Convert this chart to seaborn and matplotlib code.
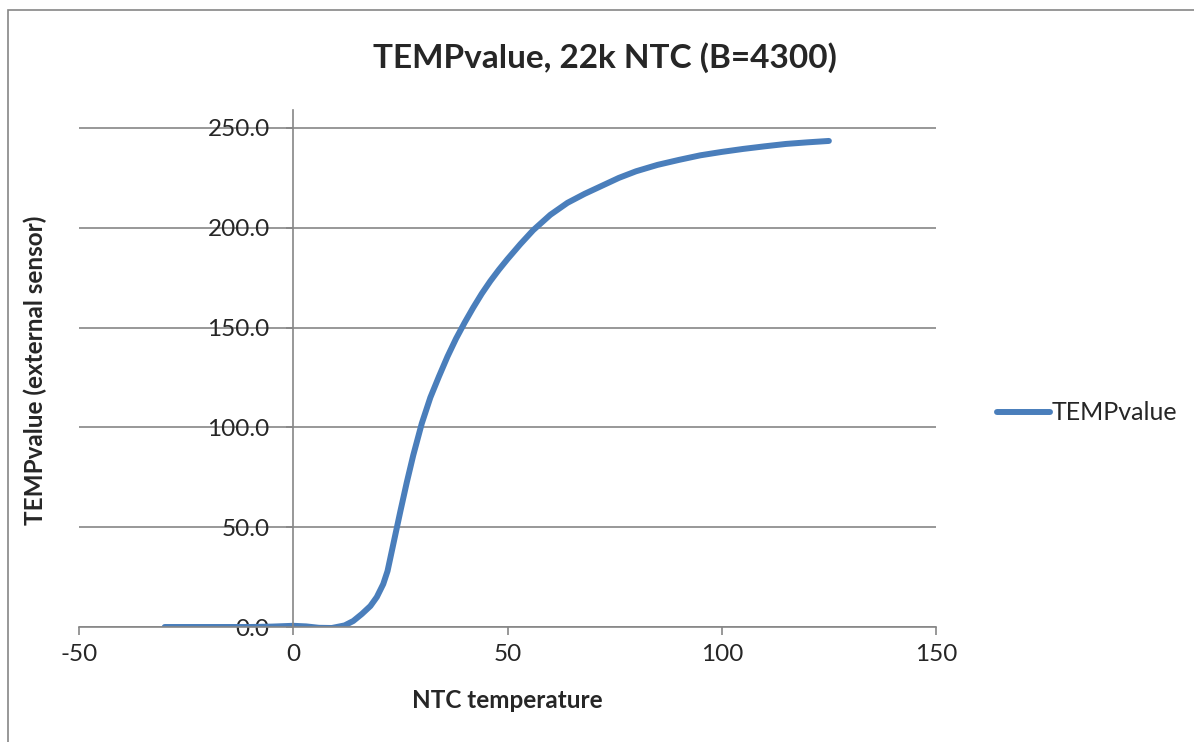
import pandas as pd
import matplotlib.pyplot as plt
import matplotlib.patches as patches
import seaborn as sns

# Data
ntc_temp = [-30, -20, -10, -5, 0, 3, 6, 9, 12, 14, 16, 18, 19.5, 21, 22, 23, 24, 25, 26.5, 28,
            30, 32, 34, 36, 38, 40, 42, 44, 46, 48, 50, 53, 56, 60, 64, 68, 72, 76, 80,
            85, 90, 95, 100, 105, 110, 115, 120, 125]
temp_value = [0.0, 0.0, 0.0, 0.2, 0.6, 0.3, -0.4, -0.5, 0.8, 3.0, 6.5, 10.5, 15.0, 21.5, 28.0, 38.0, 48.0, 58.0, 72.5, 86.0,
              102.0, 115.0, 125.5, 135.5, 144.5, 152.5, 160.0, 167.0, 173.3, 179.0, 184.3, 191.8, 198.8, 206.5, 212.5, 217.0, 221.0, 225.0, 228.3,
              231.5, 234.0, 236.3, 238.0, 239.5, 240.8, 242.0, 242.8, 243.5]
y_ticks = [0, 50, 100, 150, 200, 250]
x_ticks = [-50, 0, 50, 100, 150]

df = pd.DataFrame({'NTC temperature': ntc_temp, 'TEMPvalue': temp_value})

sns.set_style('white')
plt.rcParams['font.family'] = ['Lato', 'DejaVu Sans']

fig = plt.figure(figsize=(11.94, 7.42), dpi=100)
ax = fig.add_axes([79 / 1194, 1 - 627 / 742, 857 / 1194, 517 / 742])

grid_col = '#868686'
line_col = '#4A7EBB'

sns.lineplot(data=df, x='NTC temperature', y='TEMPvalue', ax=ax, color=line_col,
             linewidth=4.3, label='TEMPvalue', sort=False, estimator=None,
             solid_capstyle='round', solid_joinstyle='round')

ax.set_xlim(-50, 150)
ax.set_ylim(0, 259)
ax.set_xticks(x_ticks)
ax.set_yticks(y_ticks)
ax.set_yticklabels([f'{v:.1f}' for v in y_ticks])
ax.set_xticklabels([str(v) for v in x_ticks])

# horizontal gridlines only
ax.yaxis.grid(True, color=grid_col, linewidth=1.2)
ax.xaxis.grid(False)
ax.set_axisbelow(True)

# axes cross at zero like in Excel
ax.spines['left'].set_position(('data', 0))
ax.spines['bottom'].set_position(('data', 0))
ax.spines['right'].set_visible(False)
ax.spines['top'].set_visible(False)
for s in ['left', 'bottom']:
    ax.spines[s].set_color(grid_col)
    ax.spines[s].set_linewidth(1.2)

ax.tick_params(axis='x', direction='out', length=6, width=1.2, color=grid_col,
               labelsize=17.5, pad=6, bottom=True)
ax.tick_params(axis='y', direction='out', length=5, width=1.2, color=grid_col,
               labelsize=17.5, pad=12, left=True)

ax.set_xlabel('')
ax.set_ylabel('')
fig.text(507 / 1194, 1 - 701 / 742, 'NTC temperature', ha='center', va='center',
         fontsize=17.5, fontweight='bold')
fig.text(35 / 1194, 1 - 370 / 742, 'TEMPvalue (external sensor)', ha='center', va='center',
         rotation=90, fontsize=17.5, fontweight='bold')
fig.text(605 / 1194, 1 - 58 / 742, 'TEMPvalue, 22k NTC (B=4300)', ha='center', va='center',
         fontsize=24, fontweight='bold')

# legend outside on the right
ax.legend(loc='center left', bbox_to_anchor=((997 - 79) / 857, (627 - 413) / 517),
          frameon=False, fontsize=18, handlelength=2.1, handletextpad=0.1,
          borderaxespad=0, borderpad=0)

# chart area border
fig.patches.append(patches.Rectangle((8 / 1194, -0.1), 1.2, 1.1 - 10 / 742,
                                     transform=fig.transFigure, fill=False,
                                     edgecolor=grid_col, linewidth=1.2))

fig.savefig('out.png', dpi=100)
